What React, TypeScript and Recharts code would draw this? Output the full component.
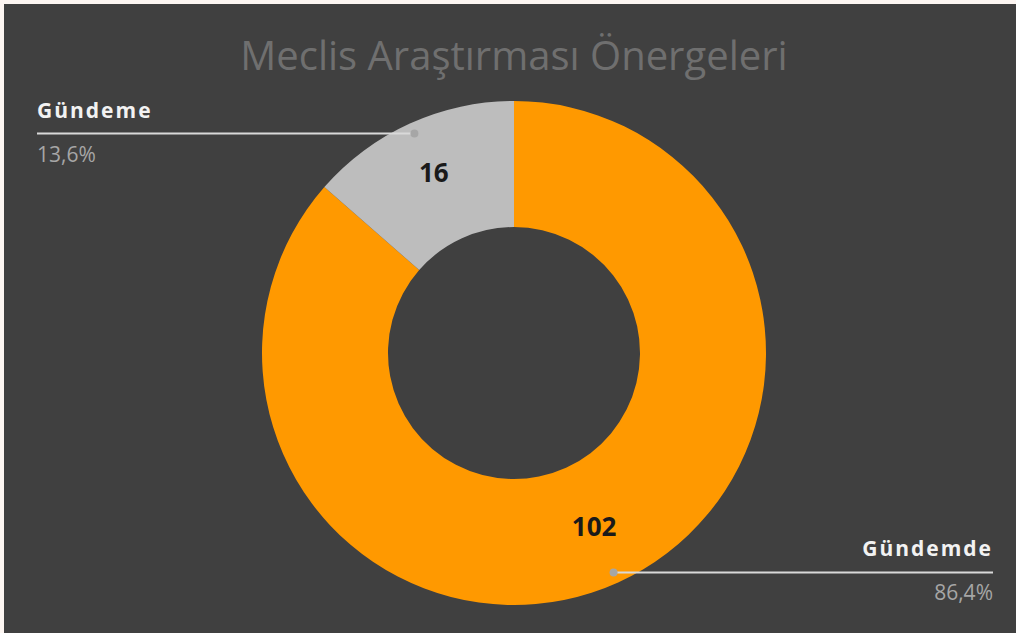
import React from 'react'
import { PieChart, Pie, Cell } from 'recharts'

// Excel-style donut: first slice starts at 12 o'clock, clockwise
const categories = ['Gündemde', 'Gündeme']
const counts = [102, 16]
const percentLabels = ['86,4%', '13,6%']
const sliceColors = ['#FF9900', '#BDBDBD']

const chartData = categories.map((name, i) => ({ name, value: counts[i] }))

const W = 1012
const H = 629
// recharts adds the 5px default margin to numeric cx / cy
const CX = 505
const CY = 344
const RAD = Math.PI / 180

function SliceLabel(props: any) {
  const { cx, cy, midAngle, index, value } = props
  const cos = Math.cos(-midAngle * RAD)
  const sin = Math.sin(-midAngle * RAD)
  // value inside the ring
  const vx = cx + 194 * cos
  const vy = cy + 194 * sin - 4
  // leader line anchor
  const dx = cx + 241 * cos
  const dy = cy + 241 * sin
  const isRight = cos >= 0
  const lineEnd = isRight ? 989 : 33
  const anchor = isRight ? 'end' : 'start'
  return (
    <g>
      <text
        x={vx}
        y={vy}
        textAnchor="middle"
        dominantBaseline="central"
        fill="#1a1a1a"
        fontSize={26}
        fontWeight="bold"
        fontFamily="'Open Sans', sans-serif"
      >
        {value}
      </text>
      <line x1={dx} y1={dy} x2={lineEnd} y2={dy} stroke="#d9d9d9" strokeWidth={2} />
      <circle cx={dx} cy={dy} r={4} fill="#a6a6a6" />
      <text
        x={lineEnd}
        y={dy - 16}
        textAnchor={anchor}
        fill="#f2f2f2"
        fontSize={21}
        fontWeight="bold"
        letterSpacing={2}
        fontFamily="'Open Sans', sans-serif"
      >
        {categories[index]}
      </text>
      <text
        x={lineEnd}
        y={dy + 28}
        textAnchor={anchor}
        fill="#a6a6a6"
        fontSize={21}
        fontFamily="'Open Sans', sans-serif"
      >
        {percentLabels[index]}
      </text>
    </g>
  )
}

export default function App() {
  return (
    <div
      style={{
        position: 'fixed',
        left: 0,
        top: 0,
        width: 1016,
        height: 633,
        background: '#FDF6F2',
      }}
    >
      <div style={{ position: 'absolute', left: 4, top: 4, width: W, height: H, background: '#404040' }}>
        <PieChart width={W} height={H}>
          <text
            x={510}
            y={66}
            textAnchor="middle"
            fill="#6f6f6f"
            fontSize={40}
            fontFamily="'Open Sans', sans-serif"
          >
            Meclis Araştırması Önergeleri
          </text>
          <Pie
            data={chartData}
            dataKey="value"
            nameKey="name"
            cx={CX}
            cy={CY}
            innerRadius={126}
            outerRadius={252}
            startAngle={90}
            endAngle={-270}
            stroke="none"
            label={SliceLabel}
            labelLine={false}
            isAnimationActive={false}
          >
            {chartData.map((d, i) => (
              <Cell key={d.name} fill={sliceColors[i]} />
            ))}
          </Pie>
        </PieChart>
      </div>
    </div>
  )
}
